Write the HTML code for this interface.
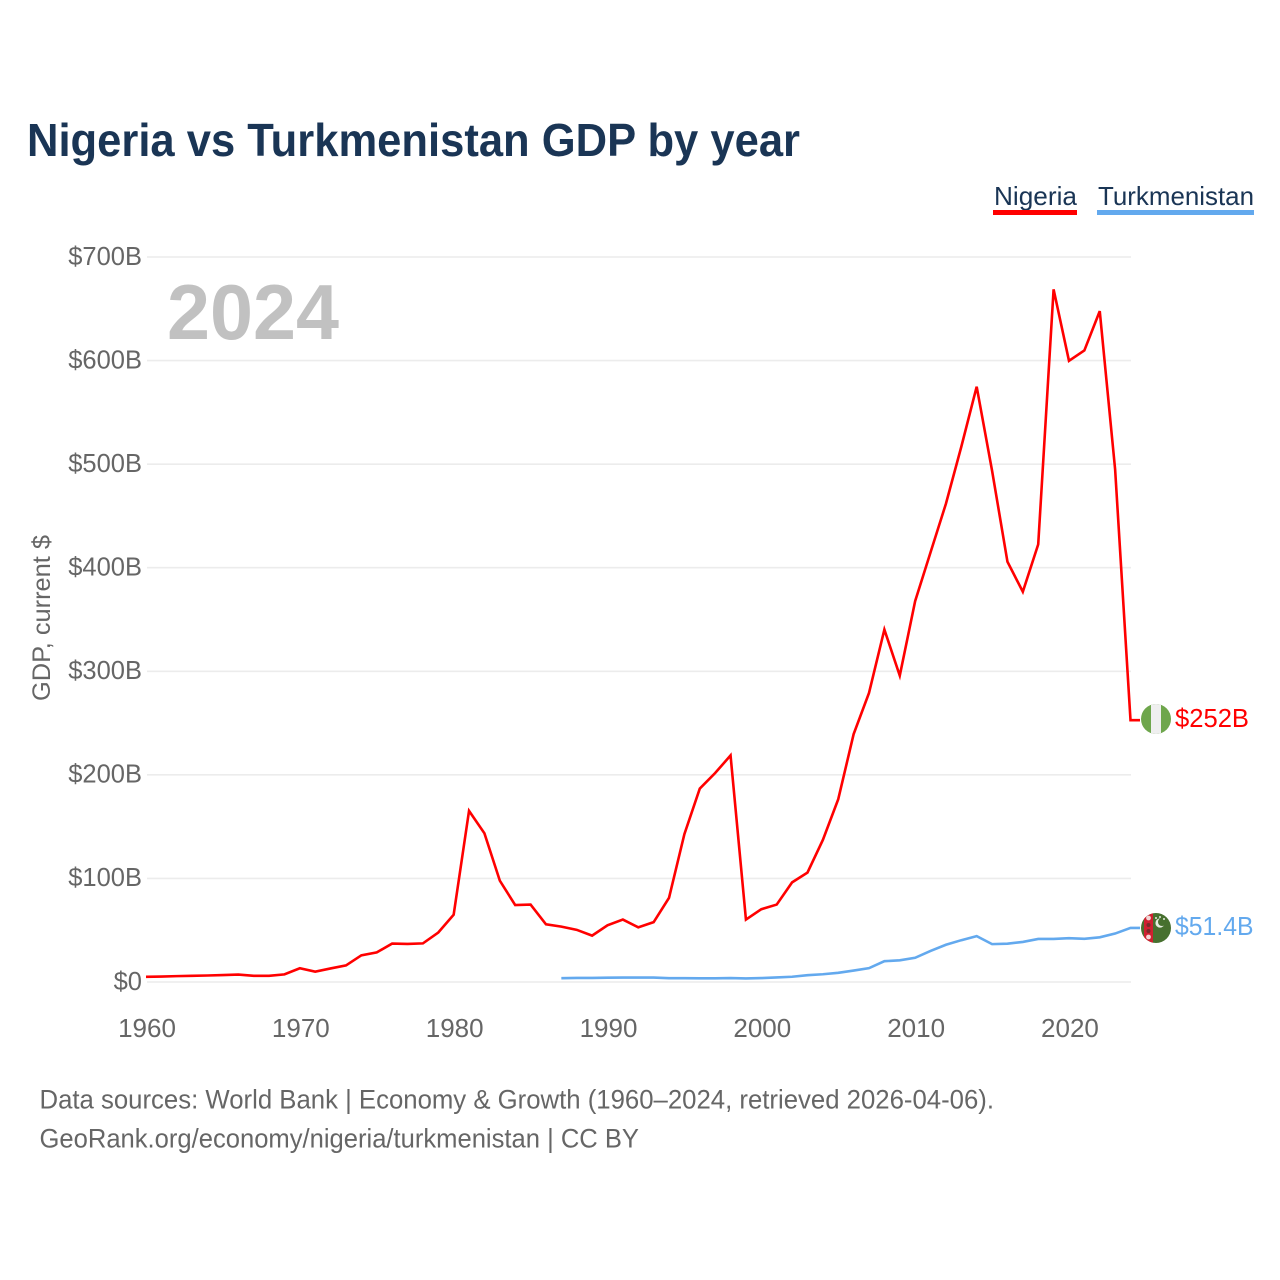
<!DOCTYPE html>
<html lang="en">
<head>
<meta charset="utf-8">
<title>Nigeria vs Turkmenistan GDP by year</title>
<style>
html,body{margin:0;padding:0;background:#fff;}
svg{display:block;font-family:"Liberation Sans",sans-serif;}
</style>
</head>
<body>
<svg id="chart" xmlns="http://www.w3.org/2000/svg" width="1280" height="1280" viewBox="0 0 1280 1280">
  <text x="27" y="156" font-size="46" font-weight="700" fill="#1a3555" textLength="773" lengthAdjust="spacingAndGlyphs">Nigeria vs Turkmenistan GDP by year</text>

  <g>
    <g>
      <text x="994" y="205" font-size="26" fill="#1a3555" textLength="83" lengthAdjust="spacingAndGlyphs">Nigeria</text>
      <rect x="993" y="210" width="84" height="5" fill="#ff0000"/>
    </g>
    <g>
      <text x="1098" y="205" font-size="26" fill="#1a3555" textLength="156" lengthAdjust="spacingAndGlyphs">Turkmenistan</text>
      <rect x="1097" y="210" width="157" height="5" fill="#63a9ee"/>
    </g>
  </g>

  <g id="grid"></g>
  <g id="yticks"></g>
  <g id="xticks"></g>

  <text transform="translate(50,618) rotate(-90)" text-anchor="middle" font-size="25" fill="#666666" textLength="166" lengthAdjust="spacingAndGlyphs">GDP, current $</text>

  <text x="167" y="339" font-size="78" font-weight="700" fill="#c1c1c1" textLength="172" lengthAdjust="spacingAndGlyphs">2024</text>

  <g id="series"></g>

  <g id="flag-nigeria">
    <clipPath id="clip-ng"><circle cx="1156" cy="719" r="15"/></clipPath>
    <g clip-path="url(#clip-ng)">
      <rect x="1141" y="704" width="30" height="30" fill="#6ea64c"/>
      <rect x="1151" y="704" width="10" height="30" fill="#efefef"/>
    </g>
  </g>
  <g id="flag-turkmenistan">
    <clipPath id="clip-tm"><circle cx="1156" cy="928" r="15"/></clipPath>
    <g clip-path="url(#clip-tm)">
      <rect x="1141" y="913" width="30" height="30" fill="#47702f"/>
      <rect x="1144" y="913" width="9" height="30" fill="#cf2030"/>
      <circle cx="1148.5" cy="918" r="2.4" fill="#f3d5d5"/>
      <circle cx="1148.5" cy="925" r="2" fill="#7a2a2a"/>
      <circle cx="1148.5" cy="931" r="2" fill="#7a2a2a"/>
      <circle cx="1148.5" cy="937" r="2.4" fill="#f3d5d5"/>
      <circle cx="1160" cy="923" r="4.6" fill="#e6ede0"/>
      <circle cx="1162" cy="922" r="4" fill="#47702f"/>
      <circle cx="1156" cy="918" r="1" fill="#e6ede0"/>
      <circle cx="1160" cy="917" r="1" fill="#e6ede0"/>
      <circle cx="1164" cy="919" r="1" fill="#e6ede0"/>
    </g>
  </g>

  <text id="end-label-nigeria" x="1175" y="727" font-size="25.5" fill="#ff0000" textLength="74" lengthAdjust="spacingAndGlyphs"></text>
  <text id="end-label-turkmenistan" x="1175" y="935" font-size="25.5" fill="#63a9ee" textLength="78.5" lengthAdjust="spacingAndGlyphs"></text>

  <g>
    <text x="39.5" y="1108.5" font-size="27" fill="#666666" textLength="954.5" lengthAdjust="spacingAndGlyphs">Data sources: World Bank | Economy &amp; Growth (1960–2024, retrieved 2026-04-06).</text>
    <text x="39.5" y="1147.5" font-size="27" fill="#666666" textLength="599.5" lengthAdjust="spacingAndGlyphs">GeoRank.org/economy/nigeria/turkmenistan | CC BY</text>
  </g>
</svg>

<script>
const yTickValues = [0, 100, 200, 300, 400, 500, 600, 700];
const xTickYears = [1960, 1970, 1980, 1990, 2000, 2010, 2020];
const nigeriaStartYear = 1960;
const nigeriaGdp = [4.2,4.5,4.9,5.2,5.5,5.9,6.4,5.2,5.2,6.6,12.5,9.2,12.3,15.2,25,27.8,36.3,36,36.5,47,64.2,164.5,142.8,97.1,73.5,74,55,52.7,49.6,44,54,59.5,52,57,80.5,142,186,201,218,59.5,69.5,74,95.4,104.9,136.4,175.7,238.5,278.3,339.5,295,367,414,461,516,574,493,405,376,421.8,668,599,609,647,494,252];
const turkmenistanStartYear = 1987;
const turkmenistanGdp = [2.9,3.2,3.2,3.4,3.5,3.5,3.5,2.9,2.9,2.8,2.8,3,2.7,3,3.6,4.3,5.8,6.7,8.1,10.3,12.6,19.3,20.2,22.6,29.2,35.2,39.6,43.5,35.8,36.2,37.9,40.8,40.8,41.5,40.9,42.4,46,51.4];
const nigeriaEndLabel = "$252B";
const turkmenistanEndLabel = "$51.4B";

const NS = "http://www.w3.org/2000/svg";
const xScale = year => 147 + (year - 1960) * 15.383;
const yScale = value => 982 - value * 1.03571;
const lineX = year => xScale(year) - 1;
const lineY = value => yScale(value) - 0.8;

const fmtY = v => v === 0 ? "$0" : "$" + v + "B";

function make(tag, attrs, parent) {
  const el = document.createElementNS(NS, tag);
  for (const k in attrs) el.setAttribute(k, attrs[k]);
  parent.appendChild(el);
  return el;
}

const gridG = document.getElementById("grid");
const yG = document.getElementById("yticks");
const xG = document.getElementById("xticks");
const seriesG = document.getElementById("series");

yTickValues.forEach(v => {
  const line = make("line", {x1: 147, x2: 1131, y1: yScale(v), y2: yScale(v), stroke: "#ececec", "stroke-width": 1.6}, gridG);
  
  
  const t = make("text", {x: 142, y: yScale(v) + 7.8, "text-anchor": "end", "font-size": 25.5, fill: "#666666"}, yG);
  
  
  t.textContent = fmtY(v);
});

xTickYears.forEach(y => {
  const t = make("text", {x: xScale(y), y: 1037, "text-anchor": "middle", "font-size": 26, fill: "#666666"}, xG);
  
  
  t.textContent = y;
});

function linePoints(values, startYear) {
  return values.map((v, i) => lineX(startYear + i).toFixed(2) + "," + lineY(v).toFixed(2));
}

const ngPts = linePoints(nigeriaGdp, nigeriaStartYear);
const ngLast = lineY(nigeriaGdp[nigeriaGdp.length - 1]).toFixed(2);
ngPts.push("1140," + ngLast);
const ngLine = make("polyline", {points: ngPts.join(" "), fill: "none", stroke: "#ff0000", "stroke-width": 2.6, "stroke-linejoin": "miter"}, seriesG);



const tmPts = linePoints(turkmenistanGdp, turkmenistanStartYear);
const tmLast = lineY(turkmenistanGdp[turkmenistanGdp.length - 1]).toFixed(2);
tmPts.push("1140," + tmLast);
const tmLine = make("polyline", {points: tmPts.join(" "), fill: "none", stroke: "#63a9ee", "stroke-width": 2.6, "stroke-linejoin": "miter"}, seriesG);



document.getElementById("end-label-nigeria").textContent = nigeriaEndLabel;
document.getElementById("end-label-turkmenistan").textContent = turkmenistanEndLabel;
</script>
</body>
</html>
